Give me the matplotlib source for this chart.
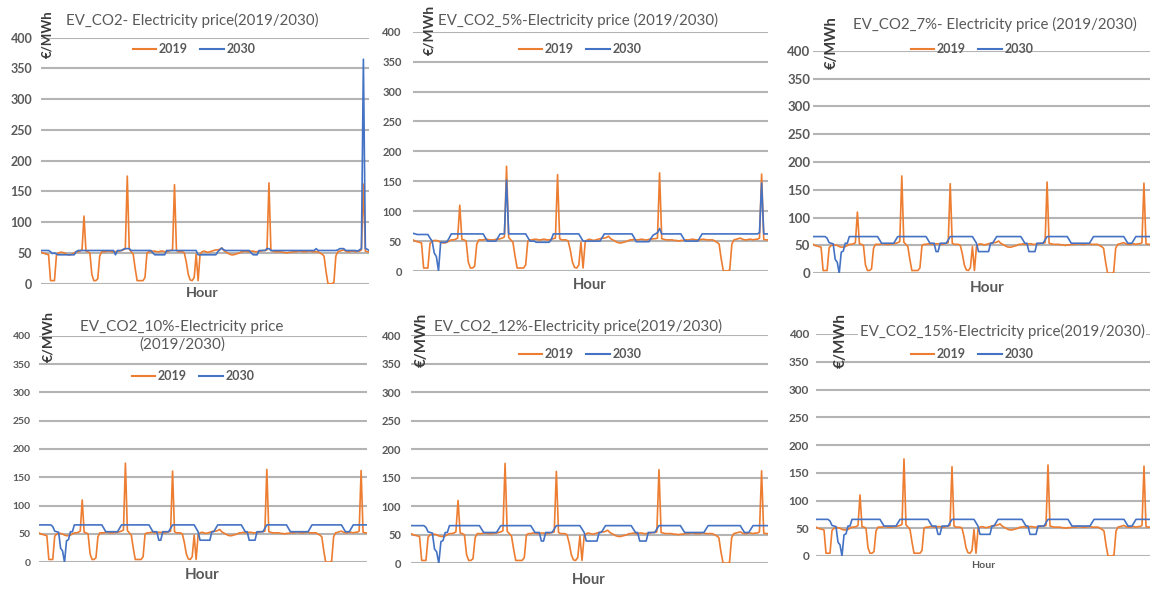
import matplotlib
matplotlib.use("Agg")
import matplotlib.pyplot as plt
from matplotlib.lines import Line2D

# ---------------------------------------------------------------------------
# Hourly electricity prices (EUR/MWh) over one week, 168 hours
# ---------------------------------------------------------------------------
hours = list(range(168))

price_2019 = [
    52, 50, 49, 48, 47, 5, 5, 5, 46, 50, 51, 51, 50, 48, 47, 47, 48, 50, 52, 52, 53, 55, 110, 53,
    52, 50, 15, 5, 5, 8, 45, 52, 52, 52, 53, 53, 52, 52, 52, 53, 53, 54, 55, 57, 175, 56, 52, 48,
    25, 5, 5, 5, 5, 10, 50, 52, 52, 53, 53, 52, 52, 53, 53, 52, 52, 53, 54, 55, 161, 54, 52, 52,
    52, 50, 35, 15, 6, 5, 10, 48, 5, 48, 52, 53, 52, 51, 52, 53, 54, 55, 55, 56, 58, 54, 52, 50,
    48, 47, 47, 48, 49, 50, 52, 52, 53, 52, 52, 53, 53, 52, 52, 53, 53, 54, 54, 55, 164, 54, 53, 52,
    52, 52, 52, 51, 51, 50, 51, 51, 52, 52, 52, 53, 53, 52, 52, 52, 53, 53, 52, 52, 52, 52, 50, 48,
    45, 20, 0, 0, 0, 2, 45, 52, 53, 54, 55, 53, 52, 52, 53, 53, 52, 53, 53, 55, 162, 53, 52, 52,
]

price_2030_co2 = [
    54, 54, 54, 54, 54, 52, 49, 50, 48, 47, 47, 47, 47, 47, 47, 47, 47, 47, 52, 54, 54, 54, 54, 54,
    54, 54, 54, 54, 54, 54, 54, 54, 54, 54, 54, 54, 54, 54, 47, 54, 54, 54, 56, 57, 57, 57, 54, 54,
    54, 54, 54, 54, 54, 54, 54, 54, 54, 50, 47, 47, 47, 47, 47, 47, 54, 54, 54, 54, 54, 54, 54, 54,
    54, 54, 54, 54, 54, 54, 54, 54, 47, 47, 47, 47, 47, 47, 47, 47, 47, 47, 52, 55, 58, 55, 54, 54,
    54, 54, 54, 54, 54, 54, 54, 54, 54, 54, 54, 50, 47, 47, 47, 54, 54, 54, 54, 57, 57, 54, 54, 54,
    54, 54, 54, 54, 54, 54, 54, 54, 54, 54, 54, 54, 54, 54, 54, 54, 54, 54, 54, 54, 57, 54, 54, 54,
    54, 54, 54, 54, 54, 54, 54, 55, 57, 57, 57, 54, 54, 54, 54, 54, 54, 53, 55, 57, 365, 57, 56, 54,
]

price_2030_co2_5 = [
    63, 62, 61, 61, 61, 61, 61, 61, 55, 50, 30, 24, 0, 48, 48, 48, 49, 55, 62, 62, 62, 62, 62, 62,
    62, 62, 62, 62, 62, 62, 62, 62, 62, 62, 56, 50, 50, 50, 50, 50, 56, 62, 62, 62, 152, 62, 62, 62,
    62, 62, 62, 62, 62, 62, 56, 50, 50, 50, 48, 48, 48, 48, 48, 48, 48, 52, 62, 62, 62, 62, 62, 62,
    62, 62, 62, 62, 62, 62, 62, 56, 50, 50, 50, 50, 50, 50, 50, 50, 50, 56, 62, 62, 62, 62, 62, 62,
    62, 62, 62, 62, 62, 62, 62, 62, 56, 49, 49, 49, 49, 49, 49, 49, 55, 60, 62, 64, 71, 62, 62, 62,
    62, 62, 62, 62, 62, 62, 62, 56, 50, 50, 50, 50, 50, 50, 50, 56, 62, 62, 62, 62, 62, 62, 62, 62,
    62, 62, 62, 62, 62, 62, 62, 62, 62, 62, 62, 62, 62, 62, 62, 62, 62, 62, 62, 64, 147, 62, 62, 62,
]

# Same 2030 price path for the 7 %, 10 %, 12 % and 15 % scenarios
price_2030_co2_7to15 = [
    66, 66, 66, 66, 66, 66, 66, 63, 55, 54, 53, 25, 20, 0, 38, 40, 54, 54, 66, 66, 66, 66, 66, 66,
    66, 66, 66, 66, 66, 66, 66, 66, 66, 60, 54, 54, 54, 54, 54, 54, 54, 60, 66, 66, 66, 66, 66, 66,
    66, 66, 66, 66, 66, 66, 66, 66, 66, 60, 54, 54, 54, 39, 39, 54, 54, 54, 54, 60, 66, 66, 66, 66,
    66, 66, 66, 66, 66, 66, 66, 66, 60, 54, 39, 39, 39, 39, 39, 39, 54, 54, 60, 66, 66, 66, 66, 66,
    66, 66, 66, 66, 66, 66, 66, 66, 60, 54, 54, 39, 39, 39, 39, 54, 54, 54, 54, 60, 66, 66, 66, 66,
    66, 66, 66, 66, 66, 66, 66, 60, 54, 54, 54, 54, 54, 54, 54, 54, 54, 54, 60, 66, 66, 66, 66, 66,
    66, 66, 66, 66, 66, 66, 66, 66, 66, 66, 66, 60, 54, 54, 54, 60, 66, 66, 66, 66, 66, 66, 66, 66,
]

titles = [
    "EV_CO2- Electricity price(2019/2030)",
    "EV_CO2_5%-Electricity price (2019/2030)",
    "EV_CO2_7%- Electricity price (2019/2030)",
    "EV_CO2_10%-Electricity price\n(2019/2030)",
    "EV_CO2_12%-Electricity price(2019/2030)",
    "EV_CO2_15%-Electricity price(2019/2030)",
]
series_2030 = [
    price_2030_co2,
    price_2030_co2_5,
    price_2030_co2_7to15,
    price_2030_co2_7to15,
    price_2030_co2_7to15,
    price_2030_co2_7to15,
]
series_labels = ["2019", "2030"]
y_ticks = [0, 50, 100, 150, 200, 250, 300, 350, 400]

# ---------------------------------------------------------------------------
# Styling and layout (pixel geometry of each of the six chart panels)
# ---------------------------------------------------------------------------
W, H = 1150, 590
ORANGE = "#ED7D31"
BLUE = "#4472C4"
GRID = "#b4b4b4"
TEXT = "#595959"
FONT = ["Lato", "DejaVu Sans"]

plt.rcParams["font.family"] = FONT

# plot box: x_left, x_right, y_top(400), y_bottom(0)
layout = [
    dict(box=(40.7, 369.3, 37.7, 283.7), title=(192, 20, 252), legend=(194, 49),
         ylab=(47, 34, 48), hour=(202, 293, 33), tick=9.0, pad=6, title_bg=False),
    dict(box=(413, 768, 31.7, 271), title=(578, 20, 280), legend=(580, 49),
         ylab=(429, 30, 50), hour=(590, 285, 34), tick=8.0, pad=8, title_bg=False),
    dict(box=(813, 1150, 50.7, 273.3), title=(995, 24, 284), legend=(972, 49),
         ylab=(832, 43, 53), hour=(987, 288, 35), tick=9.5, pad=2, title_bg=False),
    dict(box=(39, 367, 335.7, 562.3), title=(182, 336, 203), legend=(193, 376),
         ylab=(48, 337, 51), hour=(202, 575, 35), tick=7.5, pad=6, title_bg=False),
    dict(box=(411, 768, 335, 563.3), title=(578, 326, 287), legend=(580, 354),
         ylab=(422, 340, 54), hour=(589, 580, 34), tick=8.0, pad=7, title_bg=False),
    dict(box=(816, 1150, 334, 556), title=(1002, 331, 285), legend=(972, 354),
         ylab=(841, 341, 55), hour=(983, 566, 24), tick=8.5, pad=5, title_bg=True),
]

fig = plt.figure(figsize=(W / 100, H / 100), dpi=100)
fig.patch.set_facecolor("white")
renderer = fig.canvas.get_renderer()


def fx(x):
    return x / W


def fy(y):
    return 1 - y / H


def fitted_text(x, y, s, target, rotation=0, size=10, **kw):
    t = fig.text(fx(x), fy(y), s, ha="center", va="center", rotation=rotation,
                 fontsize=size, **kw)
    ext = t.get_window_extent(renderer)
    cur = ext.height if rotation else ext.width
    t.set_fontsize(size * target / cur)
    return t


for cfg, title, s2030 in zip(layout, titles, series_2030):
    x0, x1, ytop, ybot = cfg["box"]
    ax = fig.add_axes([fx(x0), fy(ybot), (x1 - x0) / W, (ybot - ytop) / H])
    ax.set_facecolor("none")
    for v in y_ticks:
        ax.axhline(v, color=GRID, lw=1.5, zorder=1)
    ax.plot(hours, price_2019, color=ORANGE, lw=1.2, zorder=3, solid_joinstyle="round")
    ax.plot(hours, s2030, color=BLUE, lw=1.2, zorder=4, solid_joinstyle="round")
    ax.set_xlim(hours[0], hours[-1])
    ax.set_ylim(0, 400)
    ax.set_yticks(y_ticks)
    ax.set_xticks([])
    ax.tick_params(axis="y", length=0, pad=cfg["pad"], labelsize=cfg["tick"],
                   labelcolor=TEXT)
    for lbl in ax.get_yticklabels():
        lbl.set_fontweight("bold")
    for sp in ax.spines.values():
        sp.set_visible(False)
    ax.set_clip_on(False)

    tx, ty, tw = cfg["title"]
    bbox = dict(facecolor="white", edgecolor="none", pad=1) if cfg["title_bg"] else None
    fitted_text(tx, ty, title, tw, color=TEXT, linespacing=1.25, bbox=bbox, zorder=6)

    lx, ly, lh = cfg["ylab"]
    fitted_text(lx, ly, "€/MWh", lh, rotation=90, color="#3a3a3a", fontweight="bold")

    hx, hy, hw = cfg["hour"]
    fitted_text(hx, hy, "Hour", hw, color=TEXT, fontweight="bold")

    handles = [Line2D([], [], color=ORANGE, lw=1.5), Line2D([], [], color=BLUE, lw=1.5)]
    lgx, lgy = cfg["legend"]
    leg = fig.legend(handles, series_labels, loc="center", bbox_to_anchor=(fx(lgx), fy(lgy)),
                     ncol=2, frameon=False, fontsize=9, handlelength=1.9,
                     handletextpad=0.2, columnspacing=1.0, borderpad=0, borderaxespad=0)
    for t in leg.get_texts():
        t.set_color(TEXT)
        t.set_fontweight("bold")

fig.savefig("out.png", dpi=100, facecolor="white")
